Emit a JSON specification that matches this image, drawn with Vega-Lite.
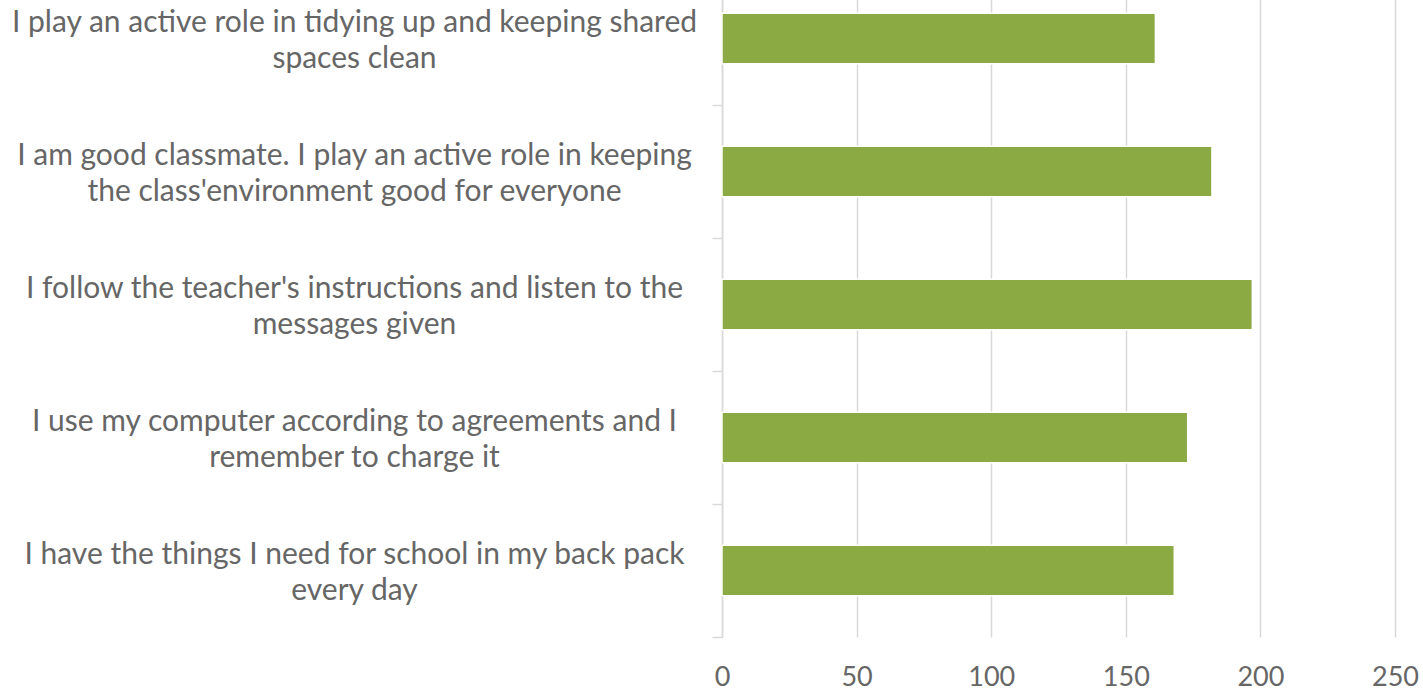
{
  "$schema": "https://vega.github.io/schema/vega-lite/v6.json",
  "autosize": {"type": "none"},
  "width": 673,
  "height": 665,
  "padding": {"left": 722, "top": -28, "right": 28, "bottom": 54},
  "background": "white",
  "data": {
    "values": [
      {"item": "I play an active role in tidying up and keeping shared|spaces clean", "count": 161},
      {"item": "I am good classmate. I play an active role in keeping|the class'environment good for everyone", "count": 182},
      {"item": "I follow the teacher's instructions and listen to the|messages given", "count": 197},
      {"item": "I use my computer according to agreements and I|remember to charge it", "count": 173},
      {"item": "I have the things I need for school in my back pack|every day", "count": 168}
    ]
  },
  "config": {
    "view": {"stroke": null},
    "font": "Lato"
  },
  "mark": {"type": "bar", "color": "#8BAA44", "stroke": "white", "strokeWidth": 1.5},
  "encoding": {
    "y": {
      "field": "item",
      "type": "nominal",
      "sort": null,
      "scale": {"paddingInner": 0.62, "paddingOuter": 0.31},
      "axis": {
        "title": null,
        "labelExpr": "split(datum.label, '|')",
        "labelAlign": "center",
        "labelBaseline": "middle",
        "labelLineHeight": 36,
        "labelFont": "Lato",
        "labelFontSize": 30,
        "labelColor": "#666666",
        "labelPadding": 358,
        "labelLimit": 800,
        "tickOffset": 66.5,
        "labelOffset": -82.5,
        "tickSize": 10,
        "tickColor": "#d9d9d9",
        "tickWidth": 1.5,
        "domainColor": "#d9d9d9",
        "domainWidth": 1.5,
        "grid": false
      }
    },
    "x": {
      "field": "count",
      "type": "quantitative",
      "scale": {"domain": [0, 250], "nice": false},
      "axis": {
        "title": null,
        "values": [0, 50, 100, 150, 200, 250],
        "domain": false,
        "ticks": false,
        "grid": true,
        "gridColor": "#d9d9d9",
        "gridWidth": 1.5,
        "labelFont": "Lato",
        "labelFontSize": 27,
        "labelColor": "#666666",
        "labelPadding": 40,
        "labelBaseline": "middle",
        "labelFlush": false
      }
    }
  }
}
